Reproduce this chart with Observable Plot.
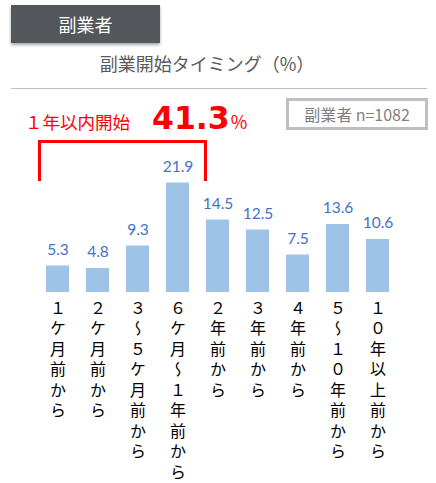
<!DOCTYPE html>
<html><head><meta charset="utf-8">
<script src="https://cdn.jsdelivr.net/npm/d3@7"></script>
<script src="https://cdn.jsdelivr.net/npm/@observablehq/plot@0.6"></script>
<style>
body{margin:0;background:#fff;font-family:"Noto Sans CJK JP","Noto Sans",sans-serif;}
#wrap{position:relative;width:436px;height:483px;overflow:hidden;}
#chart{position:absolute;left:0;top:0;}
.abs{position:absolute;white-space:nowrap;}
#tag{left:11px;top:5px;width:149px;height:38px;background:#53565b;color:#fff;font-size:18px;line-height:38px;text-align:center;box-shadow:0 2px 3px rgba(0,0,0,0.35);}
#title{left:0;width:414px;top:50px;text-align:center;font-size:18px;line-height:26px;color:#595959;}
#rule{left:11px;top:88px;width:416px;height:1px;background:#bfbfbf;}
#red{left:25px;top:100px;display:flex;align-items:baseline;color:#ff0000;}
#red .a{font-size:17.5px;}
#red .b{font-family:"DejaVu Sans";font-weight:bold;font-size:31.5px;margin-left:22px;}
#red .c{font-size:18px;margin-left:1px;}
#nbox{left:286px;top:98px;width:136px;height:26px;border:3px solid #bfbfbf;color:#7f7f7f;font-size:16px;line-height:26px;text-align:center;}
#bracket{left:38px;top:140px;width:163px;height:38px;border:3px solid #ff0000;border-bottom:none;}
</style>
</head><body>
<div id="wrap">
<div id="chart"></div>
<div class="abs" id="tag">副業者</div>
<div class="abs" id="title">副業開始タイミング（%）</div>
<div class="abs" id="rule"></div>
<div class="abs" id="red"><span class="a">１年以内開始</span><span class="b">41.3</span><span class="c">%</span></div>
<div class="abs" id="nbox">副業者 n=1082</div>
<div class="abs" id="bracket"></div>
</div>
<script>
const categories = ["１ケ月前から","２ケ月前から","３～５ケ月前から","６ケ月～１年前から","２年前から","３年前から","４年前から","５～１０年前から","１０年以上前から"];
const values = [5.3, 4.8, 9.3, 21.9, 14.5, 12.5, 7.5, 13.6, 10.6];
const data = categories.map((c, i) => ({cat: c, value: values[i]}));

const svg = Plot.plot({
  width: 436,
  height: 483,
  marginLeft: 38,
  marginRight: 38,
  marginTop: 167,
  marginBottom: 191,
  style: {background: "transparent", overflow: "visible"},
  x: {domain: categories, paddingInner: 0.42, paddingOuter: 0.21, axis: null},
  y: {domain: [0, 25], axis: null},
  marks: [
    Plot.barY(data, {x: "cat", y: "value", fill: "#9dc3e6"}),
    Plot.text(data, {x: "cat", y: "value", text: d => d.value.toFixed(1), dy: -16, fill: "#4472c4", fontSize: 15.5, fontFamily: "Lato, sans-serif"}),
    Plot.axisX({tickSize: 0, tickPadding: -4, label: null, fontSize: 16, fill: "#000", fontFamily: "Noto Sans CJK JP"})
  ]
});
document.getElementById("chart").appendChild(svg);
const g = svg.querySelector('g[aria-label="x-axis tick label"]');
if (g) {
  g.setAttribute("text-anchor", "start");
  g.querySelectorAll("text").forEach(t => {
    t.removeAttribute("dy");
    t.setAttribute("text-anchor", "start");
    t.style.writingMode = "vertical-rl";
    t.style.letterSpacing = "4.5px";
    t.style.fontFamily = "'Noto Sans CJK JP'";
  });
}
</script>
</body></html>
